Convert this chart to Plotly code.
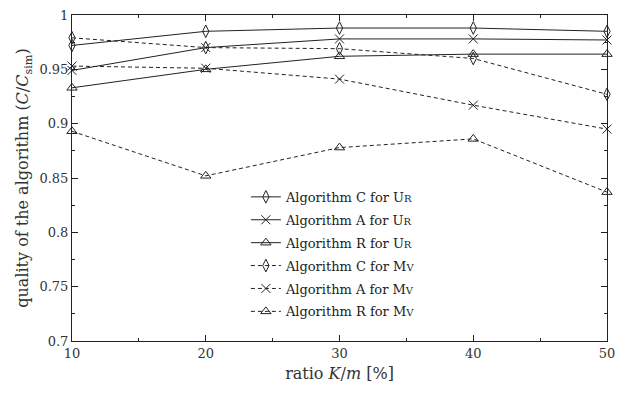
import plotly.graph_objects as go

ratio = [10, 20, 30, 40, 50]

c_ur = [0.972, 0.985, 0.988, 0.988, 0.985]
a_ur = [0.949, 0.970, 0.978, 0.978, 0.977]
r_ur = [0.933, 0.950, 0.962, 0.964, 0.964]
c_mv = [0.979, 0.970, 0.969, 0.960, 0.927]
a_mv = [0.953, 0.951, 0.941, 0.917, 0.895]
r_mv = [0.893, 0.852, 0.878, 0.886, 0.837]

UR = "U<span style='font-size:10px'>R</span>"
MV = "M<span style='font-size:10px'>V</span>"

series = [
    ("Algorithm C for " + UR, c_ur, "diamond-tall-open", "solid"),
    ("Algorithm A for " + UR, a_ur, "x-thin-open", "solid"),
    ("Algorithm R for " + UR, r_ur, "triangle-up-open", "solid"),
    ("Algorithm C for " + MV, c_mv, "diamond-tall-open", "dash"),
    ("Algorithm A for " + MV, a_mv, "x-thin-open", "dash"),
    ("Algorithm R for " + MV, r_mv, "triangle-up-open", "dash"),
]

fig = go.Figure()
for i, (name, vals, sym, dash) in enumerate(series):
    fig.add_trace(go.Scatter(
        x=ratio, y=vals, name=name, mode="lines+markers", legendgroup=str(i),
        line=dict(color="#222", width=1, dash="4px,3px" if dash == "dash" else "solid"),
        marker=dict(symbol=sym, size=9, color="#222", line=dict(width=1, color="#222")),
        cliponaxis=False,
    ))

font = "DejaVu Serif"
fig.update_layout(
    width=623, height=397,
    margin=dict(l=72, r=10, t=8, b=56),
    paper_bgcolor="white", plot_bgcolor="white",
    font=dict(family=font, size=13, color="#333"),
    showlegend=True,
    legend=dict(x=0.325, y=0.488, xanchor="left", yanchor="top",
                bgcolor="rgba(0,0,0,0)", font=dict(size=13, color="#222"),
                tracegroupgap=3, itemwidth=30),
)
fig.update_xaxes(
    range=[10, 50], tickvals=[10, 20, 30, 40, 50],
    showgrid=False, zeroline=False, showline=True, linecolor="#222", linewidth=1,
    mirror="ticks", ticks="inside", ticklen=6, tickcolor="#222",
    minor=dict(ticks="inside", ticklen=3, dtick=5, tickcolor="#222"),
    title=dict(text="ratio <i>K</i>/<i>m</i> [%]", standoff=8),
)
fig.update_yaxes(
    range=[0.7, 1.0], tickvals=[0.7, 0.75, 0.8, 0.85, 0.9, 0.95, 1.0],
    ticktext=["0.7", "0.75", "0.8", "0.85", "0.9", "0.95", "1"],
    showgrid=False, zeroline=False, showline=True, linecolor="#222", linewidth=1,
    mirror="ticks", ticks="inside", ticklen=6, tickcolor="#222",
    minor=dict(ticks="inside", ticklen=3, dtick=0.025, tickcolor="#222"),
    title=dict(text="quality of the algorithm (<i>C</i>/<i>C</i><sub>sim</sub>)", standoff=6),
)

fig.write_html("out.html", config={"displayModeBar": False},
               post_script="document.body.style.margin='0';")
